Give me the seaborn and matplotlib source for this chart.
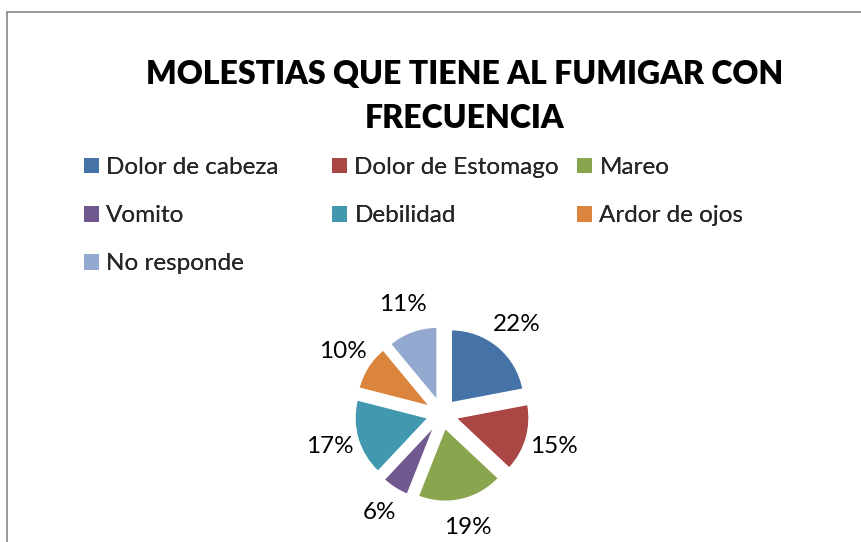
import matplotlib
matplotlib.use("Agg")
import matplotlib.pyplot as plt
import seaborn as sns
from matplotlib.patches import Patch
from matplotlib.lines import Line2D

# data
categorias = ["Dolor de cabeza", "Dolor de Estomago", "Mareo", "Vomito",
              "Debilidad", "Ardor de ojos", "No responde"]
porcentajes = [22, 15, 19, 6, 17, 10, 11]
colores = ["#4573A7", "#AA4643", "#89A54E", "#71588F",
           "#4198AF", "#DB843D", "#93A9CF"]

sns.set_style("white")
plt.rcParams["font.family"] = ["Lato", "DejaVu Sans"]
palette = sns.color_palette(colores)

fig = plt.figure(figsize=(8.62, 5.42), dpi=100)

# pie axes: centre about (442, 414) px, radius 73 px
W, H = 862, 542
r = 73
ax = fig.add_axes([(442 - 1.5 * r) / W, (H - 414 - 1.5 * r) / H, 3 * r / W, 3 * r / H])
wedges, texts, autotexts = ax.pie(
    porcentajes, colors=palette, startangle=90, counterclock=False,
    explode=[0.2] * len(porcentajes), autopct="%1.0f%%", pctdistance=1.4,
    textprops={"fontsize": 17.5, "color": "black"})
ax.set_xlim(-1.5, 1.5)
ax.set_ylim(-1.5, 1.5)
ax.set_aspect("equal")
ax.axis("off")

# title
fig.text(465 / W, 1 - 75 / H, "MOLESTIAS QUE TIENE AL FUMIGAR CON",
         ha="center", va="center", fontsize=23, fontweight="heavy", color="black")
fig.text(465 / W, 1 - 119 / H, "FRECUENCIA",
         ha="center", va="center", fontsize=23, fontweight="heavy", color="black")

# legend, one legend per column so the columns sit where Excel put them
columnas = [[0, 3, 6], [1, 4], [2, 5]]
col_x = [84, 332, 577]
for idx, x in zip(columnas, col_x):
    handles = [Patch(facecolor=palette[i], edgecolor="none") for i in idx]
    labels = [categorias[i] for i in idx]
    leg = fig.legend(handles, labels, loc="upper left",
                     bbox_to_anchor=(x / W, 1 - 157 / H),
                     frameon=False, fontsize=17.5, handlelength=0.62,
                     handleheight=0.62, handletextpad=0.3,
                     labelspacing=1.12, borderpad=0, borderaxespad=0)
    fig.add_artist(leg)

# chart border (only top and left visible in the crop)
fig.add_artist(Line2D([7.5 / W, 1], [1 - 11.5 / H, 1 - 11.5 / H],
                      transform=fig.transFigure, color="#888888", lw=1.2))
fig.add_artist(Line2D([7.5 / W, 7.5 / W], [0, 1 - 11.5 / H],
                      transform=fig.transFigure, color="#888888", lw=1.2))

fig.savefig("out.png", dpi=100)
